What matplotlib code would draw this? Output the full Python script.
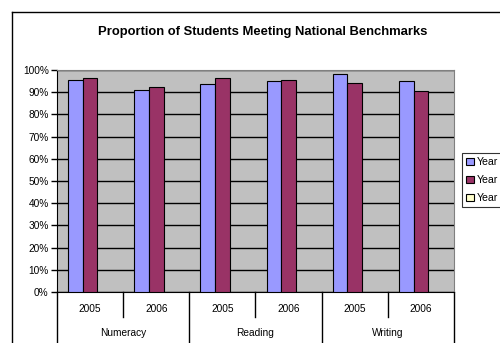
import matplotlib
matplotlib.use("Agg")
import matplotlib.pyplot as plt
import numpy as np

plt.rcParams['font.family'] = ['Liberation Sans', 'DejaVu Sans']

subjects = ["Numeracy", "Reading", "Writing"]
years = ["2005", "2006"]
year1 = [95.5, 91.1, 93.8, 95.0, 98.2, 95.2]
year2 = [96.5, 92.2, 96.5, 95.5, 94.1, 90.4]
year3 = [np.nan] * 6
series_labels = ["Year", "Year", "Year"]
title = "Proportion of Students Meeting National Benchmarks"

W, H = 500, 343
fig = plt.figure(figsize=(W / 100, H / 100), dpi=100)

# outer chart frame (only left/top visible)
fig.add_artist(plt.Line2D([12 / W, 12 / W], [0, 1 - 12 / H], color="black", lw=1))
fig.add_artist(plt.Line2D([12 / W, 1], [1 - 12 / H, 1 - 12 / H], color="black", lw=1))

ax = fig.add_axes([57 / W, (H - 292) / H, 397 / W, 222 / H])
ax.set_facecolor("#C0C0C0")

x = np.arange(len(year1))
w = 1 / 4.5
b1 = ax.bar(x - w, year1, w, color="#9999FF", edgecolor="black", lw=0.8, label=series_labels[0], zorder=3)
b2 = ax.bar(x, year2, w, color="#993366", edgecolor="black", lw=0.8, label=series_labels[1], zorder=3)
b3 = ax.bar(x + w, year3, w, color="#FFFFCC", edgecolor="black", lw=0.8, label=series_labels[2], zorder=3)

ax.set_xlim(-0.5, len(year1) - 0.5)
ax.set_ylim(0, 100)
ax.set_yticks(np.arange(0, 101, 10))
ax.set_yticklabels(["{}%".format(v) for v in range(0, 101, 10)], fontsize=7.3)
ax.yaxis.grid(True, color="black", lw=1, zorder=1)
ax.tick_params(axis="y", direction="out", length=4, width=1, pad=2)
ax.set_xticks([])

for s in ["top", "right"]:
    ax.spines[s].set_color("#808080")
ax.spines["left"].set_color("black")
ax.spines["bottom"].set_color("black")

# two level category axis
tr = ax.get_xaxis_transform()
for i in range(len(year1)):
    ax.text(i, -0.077, years[i % 2], transform=tr, ha="center", va="center", fontsize=7.3)
for i in range(len(year1) + 1):
    bottom = -0.23 if i % 2 == 0 else -0.113
    ax.add_line(plt.Line2D([i - 0.5, i - 0.5], [0, bottom], transform=tr, color="black", lw=1, clip_on=False))
for j, name in enumerate(subjects):
    ax.text(2 * j + 0.5, -0.185, name, transform=tr, ha="center", va="center", fontsize=7.3)

fig.text(263 / W, 1 - 32 / H, title, ha="center", va="center", fontsize=9.4, fontweight="bold")

leg = fig.legend(handles=[b1, b2, b3], loc="upper left", bbox_to_anchor=(462 / W, 1 - 153 / H),
                 fontsize=7.6, frameon=True, fancybox=False, edgecolor="black",
                 handlelength=0.7, handleheight=0.7, handletextpad=0.3, labelspacing=0.75,
                 borderpad=0.4, borderaxespad=0)
leg.get_frame().set_linewidth(0.8)

fig.savefig("out.png", dpi=100)
